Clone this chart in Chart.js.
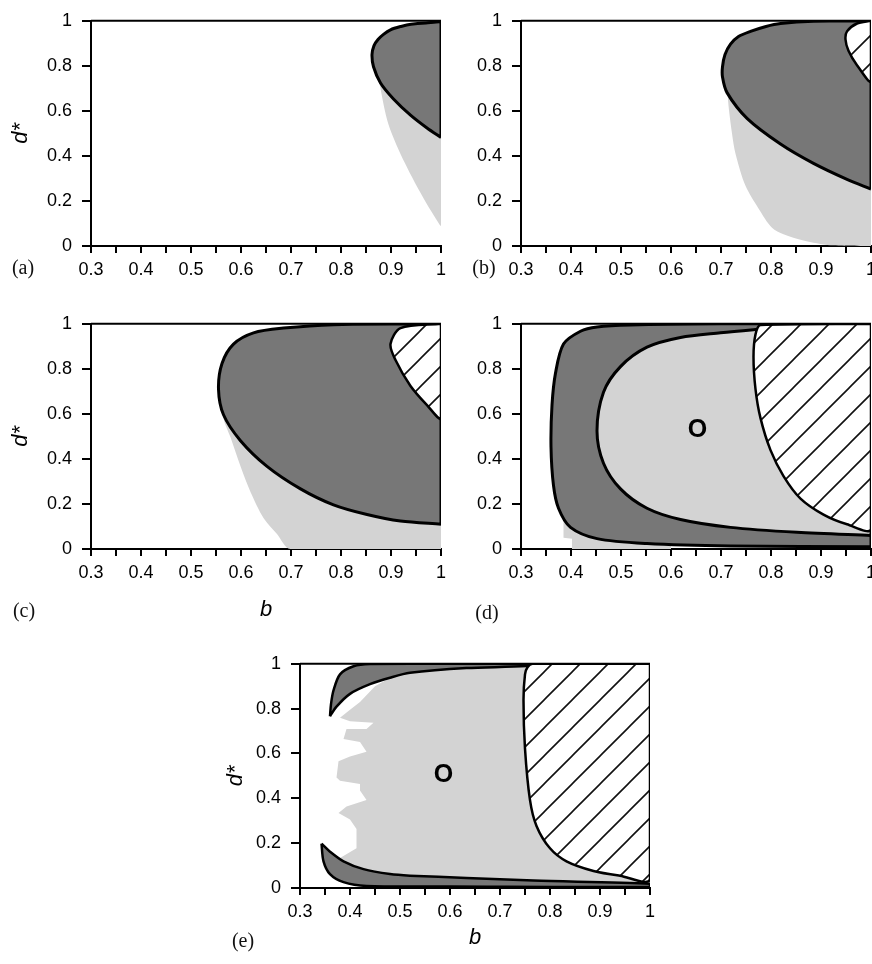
<!DOCTYPE html>
<html>
<head>
<meta charset="utf-8">
<script src="https://cdn.jsdelivr.net/npm/chart.js@4.4.1/dist/chart.umd.min.js"></script>
<style>
  html, body { margin: 0; padding: 0; background: #fff; overflow: hidden; width: 872px; height: 964px; }
  canvas { position: absolute; }
  .plabel { position: absolute; font-family: "Liberation Serif", "DejaVu Serif", serif; font-size: 20px; color: #111; transform: translate(-50%, -50%); white-space: nowrap; }
</style>
</head>
<body>
<canvas id="ca" width="460" height="300" style="left:0px;top:0px"></canvas>
<canvas id="cb" width="460" height="300" style="left:430px;top:0px"></canvas>
<canvas id="cc" width="460" height="330" style="left:0px;top:303px"></canvas>
<canvas id="cd" width="460" height="300" style="left:430px;top:303px"></canvas>
<canvas id="ce" width="460" height="321" style="left:209px;top:643px"></canvas>
<div class="plabel" style="left:23px;top:267px">(a)</div>
<div class="plabel" style="left:484px;top:267px">(b)</div>
<div class="plabel" style="left:24px;top:610px">(c)</div>
<div class="plabel" style="left:487px;top:612px">(d)</div>
<div class="plabel" style="left:243px;top:940px">(e)</div>
<script>
// ---------- axis data ----------
const bRange = [0.3, 1.0];
const dRange = [0, 1];
const bTickStep = 0.05;
const dTickStep = 0.2;
const xTitle = 'b';
const yTitle = 'd*';
const regionLabel = 'O';

// ---------- panel (a) regions: [b, d*] ----------
const aLight = [[0.872,0.80],[0.878,0.71],[0.895,0.54],[0.928,0.367],[0.969,0.196],[0.997,0.096],[1.0,0.09],[1.0,0.80]];
const aDark = [[1.0,0.482],[0.972,0.524],[0.939,0.581],[0.905,0.653],[0.879,0.724],[0.865,0.796],[0.862,0.85],[0.866,0.89],[0.874,0.917],[0.885,0.94],[0.899,0.96],[0.92,0.975],[0.94,0.985],[0.97,0.99],[1.0,0.99],[1.0,0.482]];

// ---------- panel (b) ----------
const bLight = [[0.712,0.72],[0.715,0.624],[0.722,0.50],[0.729,0.41],[0.749,0.267],[0.775,0.167],[0.802,0.081],[0.825,0.052],[0.865,0.024],[0.919,0.003],[1.0,0.0],[1.0,0.8]];
const bDark = [[1.0,0.253],[0.952,0.296],[0.885,0.367],[0.819,0.453],[0.752,0.567],[0.712,0.681],[0.703,0.75],[0.703,0.796],[0.708,0.85],[0.719,0.896],[0.735,0.93],[0.759,0.953],[0.79,0.975],[0.819,0.988],[0.885,0.998],[1.0,1.0],[1.0,0.253]];
const bHatch = [[1.0,1.0],[0.972,0.988],[0.952,0.953],[0.949,0.917],[0.955,0.867],[0.972,0.803],[1.0,0.731],[1.0,1.0]];

// ---------- panel (c) ----------
const cLight = [[0.56,0.70],[0.565,0.58],[0.579,0.496],[0.599,0.367],[0.619,0.253],[0.645,0.138],[0.672,0.067],[0.699,0.0],[1.0,0.0],[1.0,0.7]];
const cDark = [[1.0,0.110],[0.919,0.124],[0.852,0.153],[0.785,0.196],[0.719,0.267],[0.652,0.367],[0.599,0.481],[0.565,0.596],[0.555,0.71],[0.562,0.824],[0.585,0.91],[0.625,0.96],[0.685,0.981],[0.785,0.996],[1.0,1.0],[1.0,0.110]];
const cHatch = [[1.0,1.0],[0.919,0.981],[0.899,0.91],[0.909,0.839],[0.939,0.724],[0.972,0.639],[1.0,0.581],[1.0,1.0]];

// ---------- panel (d) ----------
const dLightBack = [[0.385,0.15],[0.385,0.05],[0.402,0.046],[0.402,0.0],[0.6,0.0],[0.6,0.1]];
const dDark = [[1.0,0.01],[0.719,0.013],[0.552,0.024],[0.452,0.046],[0.399,0.096],[0.375,0.181],[0.365,0.282],[0.36,0.453],[0.362,0.639],[0.369,0.781],[0.385,0.91],[0.419,0.967],[0.452,0.986],[0.519,0.995],[0.7,1.0],[1.0,1.0],[1.0,0.01]];
const dLight = [[1.0,0.06],[0.852,0.074],[0.719,0.096],[0.619,0.131],[0.552,0.181],[0.499,0.267],[0.465,0.381],[0.452,0.524],[0.465,0.696],[0.499,0.81],[0.552,0.896],[0.619,0.939],[0.699,0.96],[0.765,0.974],[0.85,0.99],[1.0,0.995],[1.0,0.06]];
const dHatch = [[1.0,1.0],[0.779,0.995],[0.769,0.953],[0.765,0.853],[0.769,0.71],[0.779,0.581],[0.799,0.439],[0.825,0.324],[0.859,0.224],[0.905,0.153],[0.952,0.110],[1.0,0.089],[1.0,1.0]];
const dLabelAt = [0.653, 0.527];

// ---------- panel (e) ----------
const eLight = [[0.42,0.83],[0.45,0.90],[0.48,0.938],[0.52,0.96],[0.633,0.981],[0.753,0.99],[1.0,0.99],[1.0,0.02],[0.767,0.034],[0.633,0.046],[0.52,0.056],[0.48,0.063],[0.427,0.085],[0.387,0.12],[0.38,0.134],[0.413,0.177],[0.413,0.263],[0.40,0.306],[0.377,0.335],[0.393,0.364],[0.433,0.392],[0.42,0.435],[0.42,0.464],[0.38,0.478],[0.373,0.493],[0.377,0.565],[0.40,0.586],[0.433,0.608],[0.42,0.651],[0.387,0.665],[0.393,0.709],[0.433,0.709],[0.447,0.737],[0.40,0.744],[0.38,0.759],[0.40,0.795],[0.42,0.83]];
const eDarkTop = [[0.36,0.766],[0.362,0.82],[0.367,0.881],[0.38,0.953],[0.407,0.989],[0.44,0.999],[0.6,1.0],[0.76,1.0],[0.753,0.99],[0.633,0.981],[0.52,0.96],[0.48,0.938],[0.44,0.909],[0.40,0.866],[0.373,0.809],[0.36,0.766]];
const eDarkBottom = [[0.343,0.198],[0.36,0.162],[0.387,0.119],[0.427,0.084],[0.48,0.062],[0.52,0.055],[0.633,0.045],[0.767,0.033],[1.0,0.019],[1.0,0.006],[0.6,0.007],[0.433,0.009],[0.387,0.026],[0.36,0.062],[0.347,0.119],[0.343,0.198]];
const eHatch = [[1.0,1.0],[0.765,1.0],[0.755,0.985],[0.75,0.953],[0.747,0.838],[0.75,0.622],[0.76,0.392],[0.773,0.277],[0.8,0.177],[0.833,0.119],[0.887,0.076],[0.94,0.055],[1.0,0.04],[1.0,1.0]];
const eLabelAt = [0.587, 0.503];

// ---------- styles ----------
const DARK = '#777777';
const LIGHT = '#d3d3d3';
const TICK_FONT = {family: '"Liberation Sans", Arial, sans-serif', size: 18};
const TITLE_FONT = {family: '"Liberation Sans", Arial, sans-serif', size: 22, style: 'italic'};

function hatchPattern() {
  const s = 28;
  const c = document.createElement('canvas');
  c.width = s; c.height = s;
  const g = c.getContext('2d');
  g.fillStyle = '#fff';
  g.fillRect(0, 0, s, s);
  g.strokeStyle = '#111';
  g.lineWidth = 1.6;
  g.beginPath();
  for (const k of [-1, 0, 1]) {
    g.moveTo(k * s - 1, s + 1);
    g.lineTo(k * s + s + 1, -1);
  }
  g.stroke();
  return g.createPattern(c, 'repeat');
}

function region(points, color, bw, order, tension) {
  return {
    data: points.map(p => ({x: p[0], y: p[1]})),
    showLine: true,
    fill: 'shape',
    backgroundColor: color,
    borderColor: bw ? '#000' : 'rgba(0,0,0,0)',
    borderWidth: bw || 0,
    pointRadius: 0,
    pointHoverRadius: 0,
    tension: tension === undefined ? 0.3 : tension,
    order: order
  };
}

const boxPlugin = {
  id: 'boxTop',
  afterDatasetsDraw(chart) {
    const {ctx, chartArea} = chart;
    ctx.save();
    ctx.strokeStyle = '#000';
    ctx.lineWidth = 2;
    ctx.beginPath();
    ctx.moveTo(chartArea.left, chartArea.top);
    ctx.lineTo(chartArea.right, chartArea.top);
    ctx.stroke();
    const lab = chart.options.plugins.regionText;
    if (lab && lab.at) {
      const x = chart.scales.x.getPixelForValue(lab.at[0]);
      const y = chart.scales.y.getPixelForValue(lab.at[1]);
      ctx.fillStyle = '#000';
      ctx.font = 'bold 25px "Liberation Sans", Arial, sans-serif';
      ctx.textAlign = 'center';
      ctx.textBaseline = 'middle';
      ctx.fillText(lab.text, x, y);
    }
    ctx.restore();
  }
};

function makePanel(id, cfg) {
  const canvas = document.getElementById(id);
  return new Chart(canvas, {
    type: 'scatter',
    data: {datasets: cfg.datasets},
    plugins: [boxPlugin],
    options: {
      responsive: false,
      animation: false,
      events: [],
      layout: {padding: {top: cfg.padTop, right: cfg.padRight, left: 0, bottom: 0}},
      plugins: {
        legend: {display: false},
        tooltip: {enabled: false},
        regionText: cfg.label ? {at: cfg.label, text: regionLabel} : null
      },
      scales: {
        x: {
          type: 'linear', min: bRange[0], max: bRange[1],
          ticks: {
            stepSize: bTickStep, autoSkip: false, maxRotation: 0, color: '#000', font: TICK_FONT, padding: 6,
            callback: v => { const r = Math.round(v * 100); return r % 10 === 0 ? String(r / 100) : ''; }
          },
          grid: {drawOnChartArea: false, drawTicks: true, tickLength: 7, color: '#000', lineWidth: 2},
          border: {color: '#000', width: 2},
          title: {display: !!cfg.xTitle, text: xTitle, color: '#000', font: TITLE_FONT, padding: {top: 0, bottom: cfg.xTitlePad || 0}},
          afterFit: s => { s.height = cfg.xHeight; }
        },
        y: {
          type: 'linear', min: dRange[0], max: dRange[1],
          ticks: {
            stepSize: dTickStep, color: '#000', font: TICK_FONT, padding: 10,
            callback: v => String(Math.round(v * 10) / 10)
          },
          grid: {drawOnChartArea: false, drawTicks: true, tickLength: 9, color: '#000', lineWidth: 2},
          border: {color: '#000', width: 2},
          title: {display: !!cfg.yTitle, text: yTitle, color: '#000', font: TITLE_FONT, padding: {top: cfg.yTitlePad || 0, bottom: 0}},
          afterFit: s => { s.width = 91; }
        }
      }
    }
  });
}

const HATCH = hatchPattern();

makePanel('ca', {
  padTop: 12, padRight: 19, xHeight: 54, yTitle: true, yTitlePad: 8,
  datasets: [region(aLight, LIGHT, 0, 3), region(aDark, DARK, 3, 2)]
});
makePanel('cb', {
  padTop: 12, padRight: 19, xHeight: 54,
  datasets: [region(bLight, LIGHT, 0, 3), region(bDark, DARK, 3, 2), region(bHatch, HATCH, 2.5, 1)]
});
makePanel('cc', {
  padTop: 13, padRight: 19, xHeight: 84, yTitle: true, yTitlePad: 8, xTitle: true, xTitlePad: 10,
  datasets: [region(cLight, LIGHT, 0, 3), region(cDark, DARK, 3, 2), region(cHatch, HATCH, 2.5, 1)]
});
makePanel('cd', {
  padTop: 13, padRight: 19, xHeight: 54, label: dLabelAt,
  datasets: [region(dLightBack, LIGHT, 0, 5, 0), region(dDark, DARK, 3, 4), region(dLight, LIGHT, 3, 3), region(dHatch, HATCH, 2.5, 1)]
});
makePanel('ce', {
  padTop: 13, padRight: 19, xHeight: 76, yTitle: true, yTitlePad: 14, xTitle: true, xTitlePad: 13, label: eLabelAt,
  datasets: [region(eLight, LIGHT, 0, 5, 0), region(eDarkTop, DARK, 2.5, 3), region(eDarkBottom, DARK, 2.5, 2), region(eHatch, HATCH, 2.5, 1)]
});
</script>
</body>
</html>
